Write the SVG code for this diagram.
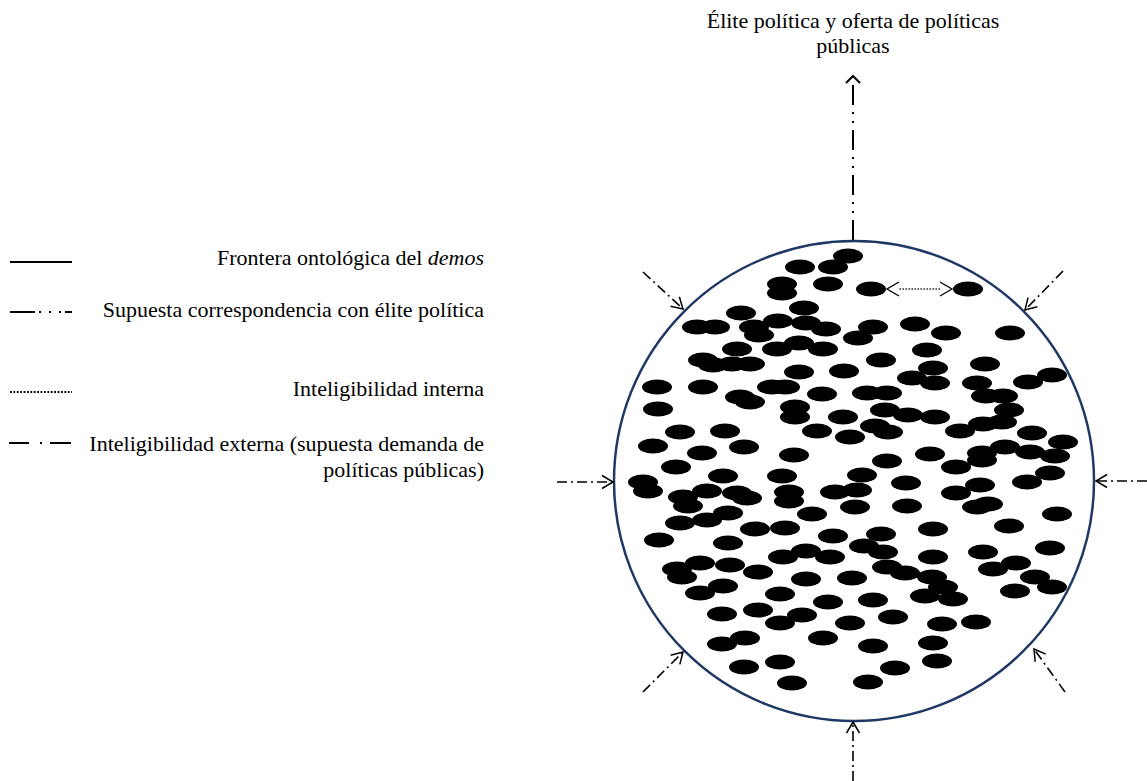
<svg xmlns="http://www.w3.org/2000/svg" width="1147" height="781" viewBox="0 0 1147 781">
<style>
text{font-family:"Liberation Serif","Times New Roman",serif;font-size:22px;fill:#000}
.dot{fill:#000}
.ext{stroke:#000;stroke-width:1.6;fill:none;stroke-dasharray:10 4 2 4}
.corr{stroke:#000;stroke-width:2;fill:none;stroke-dasharray:20 7 2 7 2 7}
.int{stroke:#333;stroke-width:1.6;fill:none;stroke-dasharray:1.6 1.4}
.leg{stroke:#000;stroke-width:2;fill:none}
</style>
<defs>
<marker id="ah" viewBox="-12 -8 14 16" refX="0" refY="0" markerWidth="14" markerHeight="16" markerUnits="userSpaceOnUse" orient="auto">
<path d="M-11,-6.5 L0,0 L-11,6.5" fill="none" stroke="#000" stroke-width="1.5"/>
</marker>
<marker id="ahTop" viewBox="-10 -9 12 18" refX="0" refY="0" markerWidth="12" markerHeight="18" markerUnits="userSpaceOnUse" orient="auto">
<path d="M-7,-7 L0,0 L-7,7" fill="none" stroke="#000" stroke-width="2"/>
</marker>
</defs>
<rect width="1147" height="781" fill="#fff"/>

<g id="legend">
<g id="leg-frontera">
<line class="leg" x1="10" y1="262" x2="72" y2="262"/>
<text x="484" y="265" text-anchor="end">Frontera ontológica del <tspan font-style="italic">demos</tspan></text>
</g>
<g id="leg-correspondencia">
<line class="leg" x1="10" y1="312" x2="72" y2="312" stroke-dasharray="25 4 2 8 2 8 2 4 10"/>
<text x="484" y="317" text-anchor="end">Supuesta correspondencia con élite política</text>
</g>
<g id="leg-interna">
<line x1="10" y1="392" x2="72" y2="392" stroke="#000" stroke-width="1.8" stroke-dasharray="1.8 1.6"/>
<text x="484" y="396" text-anchor="end">Inteligibilidad interna</text>
</g>
<g id="leg-externa">
<line class="leg" x1="9" y1="443" x2="71" y2="443" stroke-dasharray="20 11 2 8 21"/>
<text x="484" y="451" text-anchor="end">Inteligibilidad externa (supuesta demanda de</text>
<text x="484" y="477" text-anchor="end">políticas públicas)</text>
</g>
</g>

<g id="elite">
<text x="853" y="28" text-anchor="middle">Élite política y oferta de políticas</text>
<text x="853" y="53" text-anchor="middle">públicas</text>
</g>

<g id="demos">
<circle cx="854" cy="481" r="240" fill="none" stroke="#1f3864" stroke-width="2.5"/>
</g>

<g id="individuos" class="dot">
<ellipse id="p1" cx="848" cy="256" rx="15" ry="7.5"/>
<ellipse id="p2" cx="800" cy="267" rx="15" ry="7.5"/>
<ellipse id="p3" cx="833" cy="267" rx="15" ry="7.5"/>
<ellipse id="p4" cx="782" cy="284" rx="15" ry="7.5"/>
<ellipse id="p5" cx="782" cy="293" rx="15" ry="7.5"/>
<ellipse id="p6" cx="828" cy="284" rx="15" ry="7.5"/>
<ellipse id="p7" cx="871" cy="289" rx="15" ry="7.5"/>
<ellipse id="p8" cx="968" cy="289" rx="15" ry="7.5"/>
<ellipse id="p9" cx="804" cy="308" rx="15" ry="7.5"/>
<ellipse id="p10" cx="741" cy="313" rx="15" ry="7.5"/>
<ellipse id="p11" cx="697" cy="327" rx="15" ry="7.5"/>
<ellipse id="p12" cx="715" cy="327" rx="15" ry="7.5"/>
<ellipse id="p13" cx="754" cy="327" rx="15" ry="7.5"/>
<ellipse id="p14" cx="759" cy="335" rx="15" ry="7.5"/>
<ellipse id="p15" cx="778" cy="321" rx="15" ry="7.5"/>
<ellipse id="p16" cx="806" cy="323" rx="15" ry="7.5"/>
<ellipse id="p17" cx="826" cy="329" rx="15" ry="7.5"/>
<ellipse id="p18" cx="858" cy="338" rx="15" ry="7.5"/>
<ellipse id="p19" cx="873" cy="327" rx="15" ry="7.5"/>
<ellipse id="p20" cx="915" cy="324" rx="15" ry="7.5"/>
<ellipse id="p21" cx="946" cy="333" rx="15" ry="7.5"/>
<ellipse id="p22" cx="1010" cy="333" rx="15" ry="7.5"/>
<ellipse id="p23" cx="737" cy="349" rx="15" ry="7.5"/>
<ellipse id="p24" cx="777" cy="349" rx="15" ry="7.5"/>
<ellipse id="p25" cx="799" cy="343" rx="15" ry="7.5"/>
<ellipse id="p26" cx="823" cy="349" rx="15" ry="7.5"/>
<ellipse id="p27" cx="927" cy="350" rx="15" ry="7.5"/>
<ellipse id="p28" cx="703" cy="360" rx="15" ry="7.5"/>
<ellipse id="p29" cx="713" cy="365" rx="15" ry="7.5"/>
<ellipse id="p30" cx="732" cy="364" rx="15" ry="7.5"/>
<ellipse id="p31" cx="750" cy="364" rx="15" ry="7.5"/>
<ellipse id="p32" cx="799" cy="372" rx="15" ry="7.5"/>
<ellipse id="p33" cx="844" cy="371" rx="15" ry="7.5"/>
<ellipse id="p34" cx="881" cy="360" rx="15" ry="7.5"/>
<ellipse id="p35" cx="985" cy="364" rx="15" ry="7.5"/>
<ellipse id="p36" cx="933" cy="368" rx="15" ry="7.5"/>
<ellipse id="p37" cx="912" cy="378" rx="15" ry="7.5"/>
<ellipse id="p38" cx="935" cy="383" rx="15" ry="7.5"/>
<ellipse id="p40" cx="977" cy="383" rx="15" ry="7.5"/>
<ellipse id="p41" cx="1028" cy="382" rx="15" ry="7.5"/>
<ellipse id="p42" cx="1052" cy="375" rx="15" ry="7.5"/>
<ellipse id="p43" cx="657" cy="387" rx="15" ry="7.5"/>
<ellipse id="p44" cx="703" cy="387" rx="15" ry="7.5"/>
<ellipse id="p45" cx="772" cy="387" rx="15" ry="7.5"/>
<ellipse id="p46" cx="785" cy="387" rx="15" ry="7.5"/>
<ellipse id="p47" cx="740" cy="397" rx="15" ry="7.5"/>
<ellipse id="p48" cx="750" cy="402" rx="15" ry="7.5"/>
<ellipse id="p49" cx="822" cy="394" rx="15" ry="7.5"/>
<ellipse id="p50" cx="867" cy="393" rx="15" ry="7.5"/>
<ellipse id="p51" cx="887" cy="393" rx="15" ry="7.5"/>
<ellipse id="p52" cx="986" cy="396" rx="15" ry="7.5"/>
<ellipse id="p53" cx="1003" cy="396" rx="15" ry="7.5"/>
<ellipse id="p54" cx="795" cy="407" rx="15" ry="7.5"/>
<ellipse id="p55" cx="795" cy="417" rx="15" ry="7.5"/>
<ellipse id="p56" cx="658" cy="409" rx="15" ry="7.5"/>
<ellipse id="p57" cx="843" cy="417" rx="15" ry="7.5"/>
<ellipse id="p58" cx="885" cy="410" rx="15" ry="7.5"/>
<ellipse id="p59" cx="908" cy="415" rx="15" ry="7.5"/>
<ellipse id="p60" cx="935" cy="417" rx="15" ry="7.5"/>
<ellipse id="p61" cx="1009" cy="410" rx="15" ry="7.5"/>
<ellipse id="p62" cx="680" cy="432" rx="15" ry="7.5"/>
<ellipse id="p63" cx="725" cy="431" rx="15" ry="7.5"/>
<ellipse id="p64" cx="817" cy="431" rx="15" ry="7.5"/>
<ellipse id="p65" cx="850" cy="437" rx="15" ry="7.5"/>
<ellipse id="p66" cx="875" cy="426" rx="15" ry="7.5"/>
<ellipse id="p67" cx="888" cy="432" rx="15" ry="7.5"/>
<ellipse id="p68" cx="960" cy="431" rx="15" ry="7.5"/>
<ellipse id="p69" cx="983" cy="424" rx="15" ry="7.5"/>
<ellipse id="p70" cx="1002" cy="422" rx="15" ry="7.5"/>
<ellipse id="p71" cx="1032" cy="433" rx="15" ry="7.5"/>
<ellipse id="p72" cx="1063" cy="442" rx="15" ry="7.5"/>
<ellipse id="p73" cx="653" cy="446" rx="15" ry="7.5"/>
<ellipse id="p74" cx="702" cy="453" rx="15" ry="7.5"/>
<ellipse id="p75" cx="744" cy="447" rx="15" ry="7.5"/>
<ellipse id="p76" cx="794" cy="455" rx="15" ry="7.5"/>
<ellipse id="p77" cx="930" cy="454" rx="15" ry="7.5"/>
<ellipse id="p78" cx="887" cy="461" rx="15" ry="7.5"/>
<ellipse id="p79" cx="982" cy="453" rx="15" ry="7.5"/>
<ellipse id="p80" cx="1005" cy="447" rx="15" ry="7.5"/>
<ellipse id="p81" cx="1030" cy="452" rx="15" ry="7.5"/>
<ellipse id="p82" cx="1055" cy="456" rx="15" ry="7.5"/>
<ellipse id="p83" cx="676" cy="467" rx="15" ry="7.5"/>
<ellipse id="p84" cx="956" cy="467" rx="15" ry="7.5"/>
<ellipse id="p85" cx="982" cy="460" rx="15" ry="7.5"/>
<ellipse id="p86" cx="723" cy="476" rx="15" ry="7.5"/>
<ellipse id="p87" cx="782" cy="476" rx="15" ry="7.5"/>
<ellipse id="p88" cx="862" cy="475" rx="15" ry="7.5"/>
<ellipse id="p89" cx="906" cy="483" rx="15" ry="7.5"/>
<ellipse id="p90" cx="980" cy="485" rx="15" ry="7.5"/>
<ellipse id="p91" cx="1027" cy="482" rx="15" ry="7.5"/>
<ellipse id="p92" cx="1050" cy="473" rx="15" ry="7.5"/>
<ellipse id="p93" cx="643" cy="482" rx="15" ry="7.5"/>
<ellipse id="p94" cx="648" cy="491" rx="15" ry="7.5"/>
<ellipse id="p95" cx="683" cy="497" rx="15" ry="7.5"/>
<ellipse id="p96" cx="707" cy="491" rx="15" ry="7.5"/>
<ellipse id="p97" cx="737" cy="493" rx="15" ry="7.5"/>
<ellipse id="p98" cx="747" cy="498" rx="15" ry="7.5"/>
<ellipse id="p99" cx="688" cy="506" rx="15" ry="7.5"/>
<ellipse id="p100" cx="789" cy="492" rx="15" ry="7.5"/>
<ellipse id="p101" cx="789" cy="501" rx="15" ry="7.5"/>
<ellipse id="p102" cx="835" cy="492" rx="15" ry="7.5"/>
<ellipse id="p103" cx="857" cy="490" rx="15" ry="7.5"/>
<ellipse id="p105" cx="956" cy="493" rx="15" ry="7.5"/>
<ellipse id="p108" cx="855" cy="507" rx="15" ry="7.5"/>
<ellipse id="p109" cx="907" cy="506" rx="15" ry="7.5"/>
<ellipse id="p110" cx="977" cy="507" rx="15" ry="7.5"/>
<ellipse id="p111" cx="988" cy="504" rx="15" ry="7.5"/>
<ellipse id="p112" cx="1057" cy="514" rx="15" ry="7.5"/>
<ellipse id="p113" cx="728" cy="513" rx="15" ry="7.5"/>
<ellipse id="p114" cx="707" cy="520" rx="15" ry="7.5"/>
<ellipse id="p115" cx="680" cy="523" rx="15" ry="7.5"/>
<ellipse id="p116" cx="812" cy="514" rx="15" ry="7.5"/>
<ellipse id="p117" cx="755" cy="529" rx="15" ry="7.5"/>
<ellipse id="p118" cx="785" cy="528" rx="15" ry="7.5"/>
<ellipse id="p119" cx="833" cy="536" rx="15" ry="7.5"/>
<ellipse id="p120" cx="881" cy="534" rx="15" ry="7.5"/>
<ellipse id="p121" cx="933" cy="529" rx="15" ry="7.5"/>
<ellipse id="p122" cx="1009" cy="526" rx="15" ry="7.5"/>
<ellipse id="p123" cx="659" cy="540" rx="15" ry="7.5"/>
<ellipse id="p124" cx="728" cy="543" rx="15" ry="7.5"/>
<ellipse id="p125" cx="864" cy="546" rx="15" ry="7.5"/>
<ellipse id="p126" cx="883" cy="552" rx="15" ry="7.5"/>
<ellipse id="p127" cx="933" cy="557" rx="15" ry="7.5"/>
<ellipse id="p128" cx="983" cy="552" rx="15" ry="7.5"/>
<ellipse id="p129" cx="1050" cy="548" rx="15" ry="7.5"/>
<ellipse id="p130" cx="783" cy="557" rx="15" ry="7.5"/>
<ellipse id="p131" cx="806" cy="551" rx="15" ry="7.5"/>
<ellipse id="p132" cx="830" cy="557" rx="15" ry="7.5"/>
<ellipse id="p133" cx="700" cy="563" rx="15" ry="7.5"/>
<ellipse id="p134" cx="677" cy="569" rx="15" ry="7.5"/>
<ellipse id="p135" cx="730" cy="565" rx="15" ry="7.5"/>
<ellipse id="p136" cx="682" cy="577" rx="15" ry="7.5"/>
<ellipse id="p137" cx="758" cy="572" rx="15" ry="7.5"/>
<ellipse id="p138" cx="887" cy="567" rx="15" ry="7.5"/>
<ellipse id="p139" cx="905" cy="573" rx="15" ry="7.5"/>
<ellipse id="p140" cx="932" cy="577" rx="15" ry="7.5"/>
<ellipse id="p141" cx="943" cy="587" rx="15" ry="7.5"/>
<ellipse id="p142" cx="1016" cy="563" rx="15" ry="7.5"/>
<ellipse id="p143" cx="993" cy="569" rx="15" ry="7.5"/>
<ellipse id="p144" cx="1035" cy="577" rx="15" ry="7.5"/>
<ellipse id="p145" cx="1052" cy="587" rx="15" ry="7.5"/>
<ellipse id="p146" cx="1015" cy="591" rx="15" ry="7.5"/>
<ellipse id="p147" cx="806" cy="579" rx="15" ry="7.5"/>
<ellipse id="p148" cx="852" cy="578" rx="15" ry="7.5"/>
<ellipse id="p149" cx="723" cy="586" rx="15" ry="7.5"/>
<ellipse id="p150" cx="700" cy="593" rx="15" ry="7.5"/>
<ellipse id="p151" cx="780" cy="594" rx="15" ry="7.5"/>
<ellipse id="p152" cx="925" cy="596" rx="15" ry="7.5"/>
<ellipse id="p153" cx="953" cy="599" rx="15" ry="7.5"/>
<ellipse id="p154" cx="828" cy="602" rx="15" ry="7.5"/>
<ellipse id="p155" cx="873" cy="600" rx="15" ry="7.5"/>
<ellipse id="p156" cx="758" cy="610" rx="15" ry="7.5"/>
<ellipse id="p157" cx="802" cy="615" rx="15" ry="7.5"/>
<ellipse id="p158" cx="722" cy="614" rx="15" ry="7.5"/>
<ellipse id="p159" cx="893" cy="617" rx="15" ry="7.5"/>
<ellipse id="p160" cx="780" cy="623" rx="15" ry="7.5"/>
<ellipse id="p161" cx="850" cy="623" rx="15" ry="7.5"/>
<ellipse id="p162" cx="942" cy="624" rx="15" ry="7.5"/>
<ellipse id="p163" cx="976" cy="622" rx="15" ry="7.5"/>
<ellipse id="p164" cx="745" cy="638" rx="15" ry="7.5"/>
<ellipse id="p165" cx="722" cy="644" rx="15" ry="7.5"/>
<ellipse id="p166" cx="823" cy="638" rx="15" ry="7.5"/>
<ellipse id="p167" cx="873" cy="646" rx="15" ry="7.5"/>
<ellipse id="p168" cx="933" cy="643" rx="15" ry="7.5"/>
<ellipse id="p169" cx="780" cy="662" rx="15" ry="7.5"/>
<ellipse id="p170" cx="744" cy="667" rx="15" ry="7.5"/>
<ellipse id="p171" cx="937" cy="661" rx="15" ry="7.5"/>
<ellipse id="p172" cx="895" cy="668" rx="15" ry="7.5"/>
<ellipse id="p173" cx="792" cy="683" rx="15" ry="7.5"/>
<ellipse id="p174" cx="868" cy="682" rx="15" ry="7.5"/>
</g>

<g id="connectors">
<line class="corr" x1="853" y1="240" x2="853" y2="76" marker-end="url(#ahTop)"/>
<line class="int" x1="940" y1="289" x2="899" y2="289"/>
<path d="M899,282 L887,289 L899,296 M940,282 L952,289 L940,296" fill="none" stroke="#000" stroke-width="1.3"/>
<line class="ext" x1="643" y1="272" x2="683" y2="309" marker-end="url(#ah)"/>
<line class="ext" x1="1063" y1="271" x2="1025" y2="310" marker-end="url(#ah)"/>
<line class="ext" x1="557" y1="482" x2="613" y2="482" marker-end="url(#ah)"/>
<line class="ext" x1="1147" y1="481" x2="1096" y2="481" marker-end="url(#ah)"/>
<line class="ext" x1="643" y1="692" x2="683" y2="652" marker-end="url(#ah)"/>
<line class="ext" x1="1065" y1="692" x2="1034" y2="649" marker-end="url(#ah)"/>
<line class="ext" x1="853" y1="781" x2="853" y2="722" marker-end="url(#ah)"/>
</g>
</svg>
